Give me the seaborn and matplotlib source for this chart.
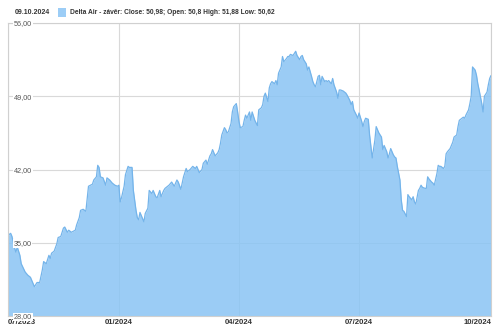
import matplotlib
matplotlib.use("Agg")
import matplotlib.pyplot as plt
from matplotlib.patches import Rectangle
import seaborn as sns
import pandas as pd

# ---- data ----
start_date = "2023-10-09"
end_date = "2024-10-09"
day_offsets = [
    0, 2, 3, 5, 6, 7, 9, 10, 13, 15, 17, 18, 20, 22, 24, 26, 27, 29, 31, 32,
    33, 35, 37, 38, 40, 42, 43, 45, 46, 48, 51, 52, 54, 55, 57, 59, 61, 64, 65, 67,
    68, 69, 70, 72, 74, 75, 77, 79, 81, 83, 84, 85, 86, 88, 89, 91, 92, 94, 95, 97,
    98, 99, 100, 102, 103, 104, 106, 107, 109, 110, 112, 113, 115, 116, 118, 119, 122, 124, 126, 128,
    129, 131, 132, 133, 135, 136, 138, 140, 142, 143, 145, 147, 148, 150, 151, 153, 154, 155, 156, 157,
    159, 160, 161, 162, 164, 165, 166, 167, 169, 170, 171, 173, 174, 175, 176, 178, 179, 180, 181, 183,
    184, 185, 187, 189, 190, 192, 193, 194, 195, 197, 198, 199, 200, 202, 203, 204, 205, 207, 208, 209,
    211, 212, 213, 214, 216, 217, 218, 219, 221, 222, 223, 224, 226, 227, 228, 230, 231, 232, 233, 235,
    236, 237, 238, 240, 241, 242, 243, 245, 246, 247, 249, 250, 251, 252, 254, 255, 256, 257, 259, 260,
    261, 262, 264, 265, 266, 268, 269, 270, 271, 273, 274, 275, 276, 278, 279, 280, 281, 283, 284, 285,
    287, 288, 289, 290, 292, 293, 294, 295, 297, 298, 299, 300, 302, 303, 304, 306, 307, 308, 309, 311,
    312, 313, 314, 316, 317, 318, 319, 321, 322, 323, 325, 326, 327, 328, 330, 331, 332, 333, 335, 336,
    337, 338, 340, 341, 342, 344, 345, 346, 347, 349, 350, 351, 352, 354, 355, 356, 357, 359, 360, 361,
    363, 364, 365, 366,
]
close_prices = [
    35.7, 35.9, 35.6, 34.5, 34.1, 34.6, 33.8, 33.0, 32.2, 31.9, 31.7, 31.4, 30.8, 31.2, 31.2, 32.4, 33.2, 33.0, 33.8, 33.5,
    34.0, 34.2, 34.9, 35.5, 35.6, 36.4, 36.5, 36.0, 36.2, 36.0, 36.2, 36.7, 37.4, 38.1, 38.2, 38.0, 40.4, 40.6, 41.0, 41.3,
    42.4, 42.2, 41.3, 41.2, 40.5, 41.2, 41.0, 40.7, 40.5, 40.4, 40.5, 38.9, 39.3, 40.4, 41.5, 42.3, 42.2, 42.2, 40.0, 38.1,
    37.4, 37.2, 37.9, 37.3, 37.0, 37.8, 38.3, 40.0, 39.7, 40.0, 39.4, 39.3, 40.0, 39.4, 40.0, 40.2, 40.5, 40.8, 40.4, 41.0,
    40.8, 40.1, 40.7, 41.3, 42.1, 41.8, 42.0, 42.3, 42.1, 42.3, 41.7, 42.0, 42.6, 42.9, 42.5, 43.3, 43.5, 43.9, 43.6, 43.3,
    43.6, 43.9, 44.5, 45.3, 46.0, 45.8, 45.5, 45.6, 46.4, 47.5, 48.0, 48.3, 47.5, 46.6, 46.0, 46.1, 46.7, 47.2, 46.9, 47.5,
    46.7, 47.5, 46.7, 46.2, 47.7, 47.9, 48.2, 49.0, 49.3, 48.5, 49.8, 50.2, 50.4, 50.2, 50.5, 50.1, 51.2, 51.8, 52.8, 52.3,
    52.6, 52.8, 52.8, 53.0, 52.9, 53.1, 53.3, 52.9, 52.5, 52.8, 52.9, 52.5, 52.1, 51.5, 51.8, 50.9, 50.4, 50.1, 49.9, 50.9,
    51.0, 50.1, 50.9, 50.4, 50.5, 50.4, 50.5, 50.2, 50.7, 50.1, 49.4, 48.8, 49.6, 49.6, 49.5, 49.4, 49.3, 49.1, 48.6, 48.2,
    48.5, 47.7, 47.2, 46.9, 47.4, 46.6, 46.1, 46.6, 46.9, 46.8, 45.3, 44.2, 43.1, 44.8, 46.1, 45.8, 45.5, 45.1, 43.9, 44.3,
    43.7, 43.1, 43.5, 44.0, 43.4, 43.2, 43.1, 42.3, 41.0, 39.1, 38.1, 38.0, 37.5, 39.6, 39.4, 39.1, 39.4, 38.9, 38.7, 40.0,
    40.2, 40.5, 40.3, 40.2, 40.2, 41.3, 41.1, 40.8, 40.7, 40.5, 41.6, 42.4, 42.3, 42.3, 42.1, 42.3, 43.5, 43.7, 44.0, 44.3,
    44.6, 45.1, 45.3, 46.1, 46.7, 46.9, 47.0, 46.9, 47.2, 47.7, 48.3, 49.0, 51.8, 51.5, 51.0, 50.2, 49.6, 48.3, 47.5, 49.0,
    49.4, 50.1, 50.7, 50.98,
]
y_ticks = [28, 35, 42, 49, 56]
y_tick_labels = ["28,00", "35,00", "42,00", "49,00", "56,00"]
x_tick_dates = ["2023-10-09", "2024-01-01", "2024-04-01", "2024-07-01", "2024-10-09"]
x_tick_labels = ["07/2023", "01/2024", "04/2024", "07/2024", "10/2024"]
header_date = "09.10.2024"
legend_label = "Delta Air - závěr: Close: 50,98; Open: 50,8 High: 51,88 Low: 50,62"

# ---- styling ----
sns.set_style("white")
plt.rcParams["font.family"] = ["Liberation Sans", "DejaVu Sans"]

fill_color = "#8ac4f4"
fill_alpha = 0.85
legend_color = "#9ccdf6"
line_color = "#74b4ea"
grid_color = "#d9d9d9"
text_color = "#333333"

df = pd.DataFrame({
    "date": pd.Timestamp(start_date) + pd.to_timedelta(day_offsets, unit="D"),
    "close": close_prices,
})

fig = plt.figure(figsize=(5.0, 3.32), dpi=100)
ax = fig.add_axes([0.016, 0.0482, 0.966, 0.8825])

# grid drawn behind the semi-transparent area
for yv in y_ticks:
    ax.axhline(yv, color=grid_color, lw=0.8, zorder=0.5)
for xv in pd.to_datetime(x_tick_dates):
    ax.axvline(xv, color=grid_color, lw=0.8, zorder=0.5)

ax.fill_between(df["date"], df["close"], y_ticks[0], color=fill_color,
                alpha=fill_alpha, lw=0, zorder=1)
sns.lineplot(data=df, x="date", y="close", ax=ax, color=line_color, lw=0.9, zorder=2)

ax.set_xlim(pd.Timestamp(start_date), pd.Timestamp(end_date))
ax.set_ylim(y_ticks[0], y_ticks[-1])
ax.set_xlabel("")
ax.set_ylabel("")
ax.grid(False)
ax.set_axisbelow(False)

ax.set_yticks(y_ticks)
ax.set_yticklabels(y_tick_labels)
ax.tick_params(axis="y", length=0, pad=-4, labelsize=5.2, labelcolor="#555555")
for lab in ax.get_yticklabels():
    lab.set_horizontalalignment("left")
    lab.set_bbox(dict(facecolor="white", edgecolor="none", pad=0.6))

ax.set_xticks(pd.to_datetime(x_tick_dates))
ax.set_xticklabels(x_tick_labels)
ax.tick_params(axis="x", length=0, pad=2.5, labelsize=5.6, labelcolor=text_color)
xl = ax.get_xticklabels()
for lab in xl:
    lab.set_fontweight("bold")
xl[0].set_horizontalalignment("left")
xl[-1].set_horizontalalignment("right")

for s in ax.spines.values():
    s.set_color("#d0d0d0")
    s.set_linewidth(0.8)

# header / legend
fig.text(0.03, 1 - 12 / 332, header_date, fontsize=5.0, fontweight="bold",
         color=text_color, va="center", ha="left")
fig.patches.append(Rectangle((58 / 500, 1 - 16.5 / 332), 8 / 500, 8.5 / 332,
                             transform=fig.transFigure, facecolor=legend_color,
                             edgecolor="none"))
fig.text(70 / 500, 1 - 12 / 332, legend_label, fontsize=4.8, fontweight="bold",
         color=text_color, va="center", ha="left")

fig.savefig("out.png", dpi=100)
